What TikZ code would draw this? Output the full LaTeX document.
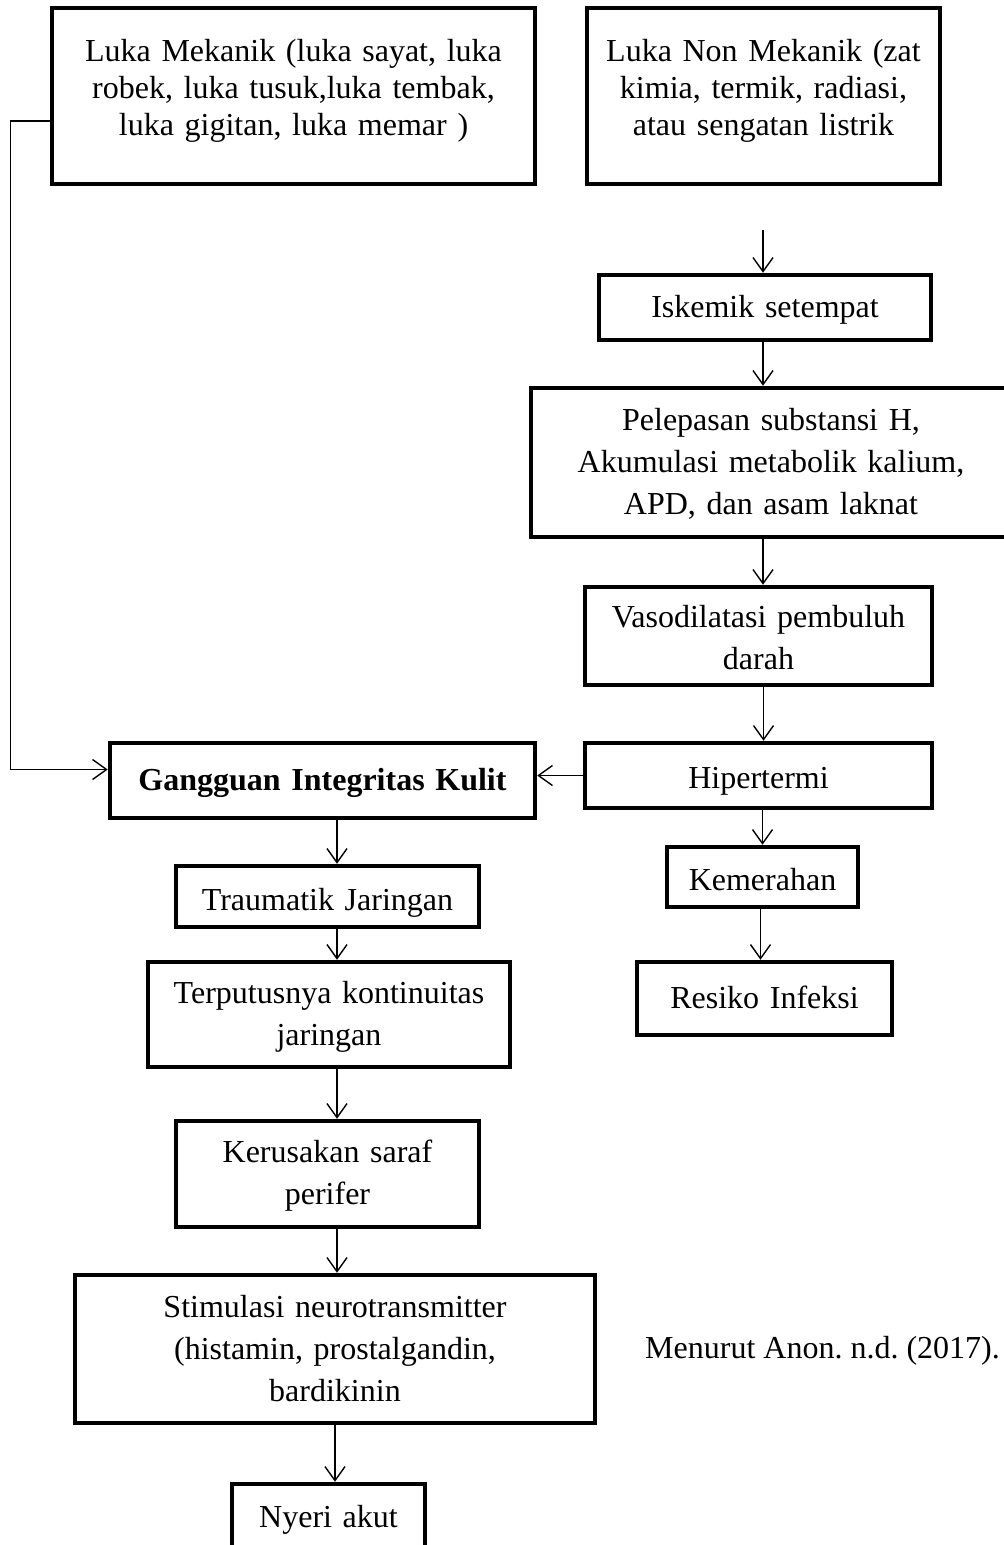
\documentclass[tikz,border=0pt]{standalone}
\usepackage{fontspec}
\setmainfont{Liberation Serif}
\usetikzlibrary{arrows.meta,calc}
\frenchspacing
\tikzset{
  box/.style={draw, line width=4.5pt, inner sep=0pt, align=center,
    font=\fontsize{32}{42}\selectfont\frenchspacing},
  conn/.style={line width=1.4pt, -{Straight Barb[length=14pt,width=20pt]}},
  capt/.style={inner sep=0pt, font=\fontsize{32}{42}\selectfont\frenchspacing},
}
\begin{document}
\begin{tikzpicture}[x=1pt,y=-1pt]
\useasboundingbox (0,0) rectangle (1004,1545);

% top boxes
\node[box, font=\fontsize{32}{37}\selectfont\frenchspacing, minimum width=483pt, minimum height=176pt, text width=470pt, text height=22pt, text depth=92pt] (m1) at (293.5,96)
  {Luka Mekanik (luka sayat, luka\\ robek, luka tusuk,luka tembak,\\ luka gigitan, luka memar )};
\node[box, font=\fontsize{32}{37}\selectfont\frenchspacing, minimum width=353pt, minimum height=176pt, text width=340pt, text height=22pt, text depth=92pt] (m2) at (763.5,96)
  {Luka Non Mekanik (zat\\ kimia, termik, radiasi,\\ atau sengatan listrik};

% right column
\node[box, minimum width=332pt, minimum height=65pt, text width=320pt, text height=22pt, text depth=3pt] (isk) at (765,307.5) {Iskemik setempat};
\node[box, minimum width=480pt, minimum height=149pt, text width=466pt, text height=22pt, text depth=87pt] (pel) at (771,462.5)
  {Pelepasan substansi H,\\ Akumulasi metabolik kalium,\\ APD, dan asam laknat};
\node[box, minimum width=347pt, minimum height=98pt, text width=335pt, text height=22pt, text depth=40pt] (vas) at (758.5,636)
  {Vasodilatasi pembuluh\\ darah};
\node[box, minimum width=347pt, minimum height=65pt, text width=335pt, text height=27pt, text depth=2pt] (hip) at (758.5,775.5) {Hipertermi};
\node[box, minimum width=191pt, minimum height=60pt, text width=180pt, text height=28pt, text depth=2pt] (kem) at (762.5,877) {Kemerahan};
\node[box, minimum width=255pt, minimum height=73pt, text width=245pt, text height=22pt, text depth=3pt] (res) at (764.5,998.5) {Resiko Infeksi};

% left column
\node[box, minimum width=425pt, minimum height=75pt, text width=415pt, text height=22pt, text depth=3pt] (gik) at (322.5,780.5) {\textbf{Gangguan Integritas Kulit}};
\node[box, minimum width=303pt, minimum height=61pt, text width=293pt, text height=27pt, text depth=0pt] (tra) at (327.5,896.5) {Traumatik Jaringan};
\node[box, minimum width=362pt, minimum height=105pt, text width=350pt, text height=22pt, text depth=45pt] (ter) at (329,1014.5)
  {Terputusnya kontinuitas\\ jaringan};
\node[box, minimum width=303pt, minimum height=106pt, text width=293pt, text height=22pt, text depth=46pt] (ker) at (327.5,1174)
  {Kerusakan saraf\\ perifer};
\node[box, minimum width=520pt, minimum height=148pt, text width=505pt, text height=22pt, text depth=86pt] (sti) at (335,1349)
  {Stimulasi neurotransmitter\\ (histamin, prostalgandin,\\ bardikinin};
\node[box, minimum width=193pt, minimum height=86pt, text width=183pt, text height=22pt, text depth=22pt] (nye) at (328.5,1527) {Nyeri akut};

\node[capt, anchor=base west] (cap) at (645,1358) {Menurut Anon. n.d. (2017).};

% connectors
\coordinate (s) at (763,230);
\coordinate (colL) at (337,0);
\draw[conn] (s) -- (s |- isk.north);
\draw[conn] (s |- isk.south) -- (s |- pel.north);
\draw[conn] (s |- pel.south) -- (s |- vas.north);
\draw[conn] ([xshift=5pt]vas.south) -- ([xshift=5pt]vas.south |- hip.north);
\draw[conn] (hip.west) -- (hip.west -| gik.east);
\draw[conn] (kem.north |- hip.south) -- (kem.north);
\draw[conn] ([xshift=-2pt]kem.south) -- ([xshift=-2pt]kem.south |- res.north);

\draw[conn] ([yshift=-25pt]m1.west) -- ++(-39,0) |- ([yshift=11pt]gik.west);
\draw[conn] (colL |- gik.south) -- (colL |- tra.north);
\draw[conn] (colL |- tra.south) -- (colL |- ter.north);
\draw[conn] (colL |- ter.south) -- (colL |- ker.north);
\draw[conn] (colL |- ker.south) -- (colL |- sti.north);
\draw[conn] ([xshift=-2pt]colL |- sti.south) -- ([xshift=-2pt]colL |- nye.north);
\end{tikzpicture}
\end{document}
